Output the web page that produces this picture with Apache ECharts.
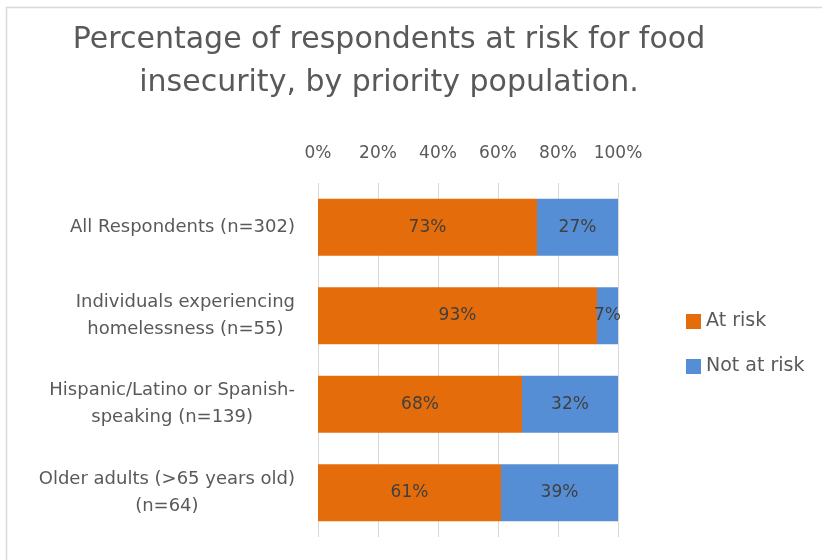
<!DOCTYPE html>
<html>
<head>
<meta charset="utf-8">
<script src="https://cdn.jsdelivr.net/npm/echarts@6/dist/echarts.min.js"></script>
<style>
  html, body { margin: 0; padding: 0; background: #ffffff; }
  #chart { width: 822px; height: 560px; }
</style>
</head>
<body>
<div id="chart"></div>
<script>
// Survey groups, top to bottom
const categories = [
  'All Respondents (n=302)',
  'Individuals experiencing\nhomelessness (n=55)',
  'Hispanic/Latino or Spanish-\nspeaking (n=139)',
  'Older adults (>65 years old)\n(n=64)'
];
const atRisk = [73, 93, 68, 61];
const notAtRisk = [27, 7, 32, 39];
const percentTicks = [0, 20, 40, 60, 80, 100];

const FONT = '"DejaVu Sans", sans-serif';
const TEXT = '#595959';

const chart = echarts.init(document.getElementById('chart'));

// Category labels: block right-aligned against the plot, each line centred in the block
const catLabel = v => v.split('\n').map(s => '{c|' + s + '}').join('\n');

const barLabel = {
  show: true,
  position: 'inside',
  formatter: '{c}%',
  fontFamily: FONT,
  fontSize: 17,
  color: '#404040'
};

chart.setOption({
  backgroundColor: '#ffffff',
  animation: false,
  title: {
    text: 'Percentage of respondents at risk for food\ninsecurity, by priority population.',
    left: 384,
    top: 14,
    textAlign: 'center',
    textStyle: {
      fontFamily: FONT,
      fontSize: 30,
      fontWeight: 'normal',
      color: TEXT,
      lineHeight: 43,
      align: 'center'
    }
  },
  legend: {
    orient: 'vertical',
    left: 686,
    top: 312,
    padding: 0,
    itemWidth: 15,
    itemHeight: 15,
    itemGap: 26,
    icon: 'rect',
    textStyle: { fontFamily: FONT, fontSize: 19, color: TEXT },
    data: ['At risk', 'Not at risk']
  },
  grid: { left: 318, right: 204, top: 183, bottom: 23 },
  xAxis: {
    type: 'value',
    position: 'top',
    min: percentTicks[0],
    max: percentTicks[percentTicks.length - 1],
    interval: percentTicks[1] - percentTicks[0],
    axisLine: { show: false },
    axisTick: { show: false },
    axisLabel: {
      formatter: '{value}%',
      fontFamily: FONT,
      fontSize: 17,
      color: TEXT,
      margin: 21
    },
    splitLine: { show: true, lineStyle: { color: '#d9d9d9', width: 1 } }
  },
  yAxis: {
    type: 'category',
    inverse: true,
    data: categories,
    axisLine: { show: false },
    axisTick: { show: false },
    axisLabel: {
      formatter: catLabel,
      align: 'right',
      margin: 23,
      rich: {
        c: {
          align: 'center',
          fontFamily: FONT,
          fontSize: 18,
          color: TEXT,
          lineHeight: 27
        }
      }
    }
  },
  series: [
    {
      name: 'At risk',
      type: 'bar',
      stack: 'total',
      barWidth: '64.5%',
      data: atRisk,
      itemStyle: { color: '#e46c0a' },
      label: barLabel
    },
    {
      name: 'Not at risk',
      type: 'bar',
      stack: 'total',
      barWidth: '64.5%',
      data: notAtRisk,
      itemStyle: { color: '#558ed5' },
      label: barLabel
    }
  ],
  graphic: [
    { type: 'line', shape: { x1: 6, y1: 7.5, x2: 822, y2: 7.5 }, style: { stroke: '#d9d9d9', lineWidth: 1.5 } },
    { type: 'line', shape: { x1: 6.5, y1: 7, x2: 6.5, y2: 560 }, style: { stroke: '#d9d9d9', lineWidth: 1.5 } }
  ]
});
</script>
</body>
</html>
